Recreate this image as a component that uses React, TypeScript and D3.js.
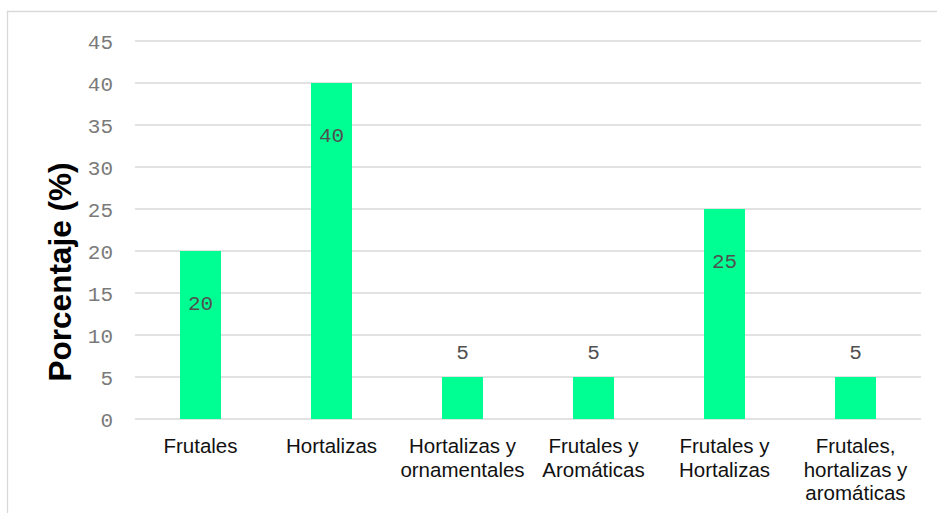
import React, { useEffect, useRef } from "react";
import * as d3 from "d3";

const categories = [
  ["Frutales"],
  ["Hortalizas"],
  ["Hortalizas y", "ornamentales"],
  ["Frutales y", "Aromáticas"],
  ["Frutales y", "Hortalizas"],
  ["Frutales,", "hortalizas y", "aromáticas"],
];
const values = [20, 40, 5, 5, 25, 5];
const yTicks = [0, 5, 10, 15, 20, 25, 30, 35, 40, 45];

const App: React.FC = () => {
  const ref = useRef<SVGSVGElement>(null);

  useEffect(() => {
    const width = 937;
    const height = 513;
    const margin = { top: 41, right: 16, bottom: 94, left: 135 };

    const svg = d3.select(ref.current);
    svg.selectAll("*").remove();

    // outer chart border (only top and left visible)
    svg
      .append("path")
      .attr("d", `M7.5,${height} V11.5 H${width}`)
      .attr("fill", "none")
      .attr("stroke", "#d9d9d9")
      .attr("stroke-width", 1.3);

    const x = d3
      .scaleBand<number>()
      .domain(d3.range(values.length))
      .range([margin.left, width - margin.right])
      .paddingInner(0.687)
      .paddingOuter(0.3435);

    const y = d3
      .scaleLinear()
      .domain([0, 45])
      .range([height - margin.bottom, margin.top]);

    // gridlines
    svg
      .append("g")
      .selectAll("line")
      .data(yTicks)
      .join("line")
      .attr("x1", margin.left)
      .attr("x2", width - margin.right)
      .attr("y1", (d) => y(d))
      .attr("y2", (d) => y(d))
      .attr("stroke", "#d9d9d9")
      .attr("stroke-width", 1.4);

    // tick labels
    svg
      .append("g")
      .selectAll("text")
      .data(yTicks)
      .join("text")
      .attr("x", 113)
      .attr("y", (d) => y(d))
      .attr("dy", "0.36em")
      .attr("text-anchor", "end")
      .attr("font-family", "'Courier New', 'Liberation Mono', monospace")
      .attr("font-size", 21)
      .attr("fill", "#7a7a7a")
      .text((d) => d);

    // bars
    svg
      .append("g")
      .selectAll("rect")
      .data(values)
      .join("rect")
      .attr("x", (_, i) => x(i)!)
      .attr("y", (d) => y(d))
      .attr("width", x.bandwidth())
      .attr("height", (d) => y(0) - y(d))
      .attr("fill", "#00ff93");

    // value labels
    svg
      .append("g")
      .selectAll("text")
      .data(values)
      .join("text")
      .attr("x", (_, i) => x(i)! + x.bandwidth() / 2)
      .attr("y", (d) => y(d) + (d >= 20 ? 51 : -26))
      .attr("dy", "0.36em")
      .attr("text-anchor", "middle")
      .attr("font-family", "'Courier New', 'Liberation Mono', monospace")
      .attr("font-size", 21)
      .attr("fill", "#505050")
      .text((d) => d);

    // category labels
    const cat = svg
      .append("g")
      .selectAll("text")
      .data(categories)
      .join("text")
      .attr("x", (_, i) => x(i)! + x.bandwidth() / 2)
      .attr("y", 453)
      .attr("text-anchor", "middle")
      .attr("font-family", "Arial, 'Liberation Sans', sans-serif")
      .attr("font-size", 20.5)
      .attr("fill", "#111");
    cat
      .selectAll("tspan")
      .data((d) => d)
      .join("tspan")
      .attr("x", function () {
        return (this.parentNode as SVGTextElement).getAttribute("x");
      })
      .attr("dy", (_, j) => (j === 0 ? 0 : 23.5))
      .text((d) => d);

    // y axis title
    svg
      .append("text")
      .attr("transform", `translate(71,272) rotate(-90)`)
      .attr("text-anchor", "middle")
      .attr("font-family", "Arial, 'Liberation Sans', sans-serif")
      .attr("font-weight", "bold")
      .attr("font-size", 31.5)
      .attr("fill", "#000")
      .text("Porcentaje (%)");
  }, []);

  return (
    <svg
      ref={ref}
      width={937}
      height={513}
      style={{ position: "absolute", left: 0, top: 0, background: "#fff" }}
    />
  );
};

export default App;
